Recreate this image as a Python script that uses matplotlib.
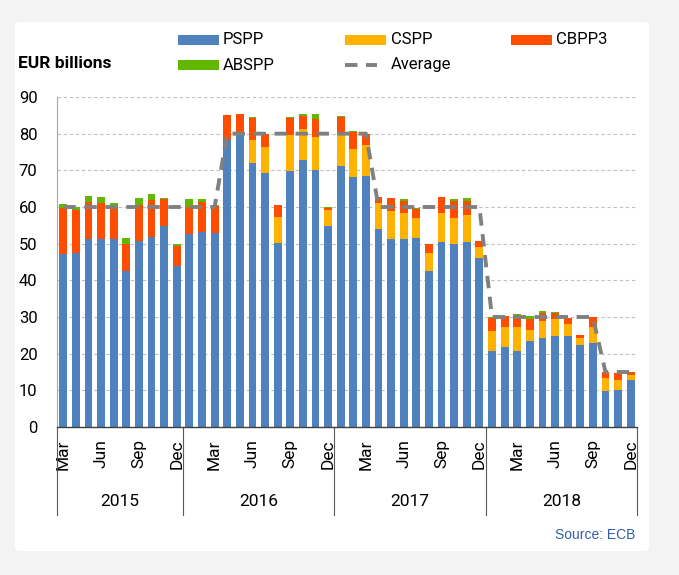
import numpy as np
import matplotlib
matplotlib.use("Agg")
import matplotlib.pyplot as plt
from matplotlib.patches import Rectangle, FancyBboxPatch
from matplotlib.lines import Line2D

plt.rcParams["font.family"] = ["Liberation Sans Narrow", "Roboto", "DejaVu Sans"]

# monthly purchases, Mar 2015 .. Dec 2018 (EUR billions)
years = ["2015", "2016", "2017", "2018"]
months_per_year = [10, 12, 12, 12]
tick_names = ["Mar", "Jun", "Sep", "Dec"]

pspp = [47.1, 47.5, 51.4, 51.4, 51.4, 42.6, 50.8, 51.8, 54.8, 43.9,
        52.7, 53.2, 53.0, 78.4, 80.0, 72.0, 69.4, 50.2, 69.8, 72.7, 70.0, 54.8,
        71.2, 68.1, 68.5, 54.0, 51.4, 51.4, 51.5, 42.6, 50.5, 49.9, 50.5, 46.2,
        20.7, 21.7, 20.8, 23.5, 24.2, 24.9, 24.9, 22.5, 22.9, 9.8, 10.1, 12.9]
cspp = [0, 0, 0, 0, 0, 0, 0, 0, 0, 0,
        0, 0, 0, 0, 0, 6.4, 7.1, 7.1, 9.9, 8.5, 9.0, 4.3,
        8.6, 7.8, 8.4, 7.2, 7.5, 7.1, 5.6, 4.9, 8.0, 7.1, 7.2, 3.0,
        5.6, 5.5, 6.5, 3.0, 4.8, 4.6, 3.2, 1.7, 4.3, 3.5, 2.8, 1.3]
cbpp3 = [12.6, 11.6, 10.0, 9.8, 8.6, 7.4, 9.8, 10.2, 7.3, 5.5,
         7.3, 8.1, 7.4, 6.7, 5.3, 5.9, 3.3, 3.2, 4.7, 3.7, 5.1, 0.7,
         4.7, 4.6, 2.9, 1.6, 3.5, 3.1, 2.4, 2.4, 4.3, 4.6, 3.9, 1.4,
         3.5, 3.1, 2.6, 3.0, 2.1, 1.6, 1.6, 1.0, 2.7, 1.7, 1.8, 0.7]
abspp = [1.0, 1.0, 1.6, 1.6, 1.2, 1.5, 1.8, 1.6, 0.4, 0.4,
         2.2, 0.8, 0.1, -0.3, 0.1, 0.2, 0.1, -0.3, 0.2, 0.4, 1.2, 0.1,
         0.4, 0.1, 0.1, -0.2, -0.2, 0.6, 0.1, -0.2, -0.2, 0.6, 0.9, -0.2,
         0.1, -0.2, 1.0, 0.9, 0.6, 0.3, 0.1, -0.2, -0.2, 0.1, 0.1, -0.2]
average = [60] * 13 + [80] * 12 + [60] * 9 + [30] * 9 + [15] * 3

C_PSPP, C_CSPP, C_CBPP3, C_ABS = "#4f81bd", "#ffb300", "#ff4d00", "#62b800"

n = len(pspp)
x = np.arange(n)
pspp, cspp, cbpp3, abspp = map(np.array, (pspp, cspp, cbpp3, abspp))

fig = plt.figure(figsize=(6.79, 5.75), dpi=100, facecolor="#f3f3f3")
panel = FancyBboxPatch((15 / 679, 1 - 551 / 575), 634 / 679, 529 / 575,
                       boxstyle="round,pad=0,rounding_size=0.006",
                       transform=fig.transFigure, fc="white", ec="none", zorder=-5)
fig.patches.append(panel)
ax = fig.add_axes([57 / 679, 1 - 427 / 575, 580 / 679, 330 / 575])
ax.set_facecolor("none")
ax.set_zorder(1)

bw = 0.62
ax.bar(x, pspp, bw, color=C_PSPP, zorder=2)
ax.bar(x, cspp, bw, bottom=pspp, color=C_CSPP, zorder=2)
ax.bar(x, cbpp3, bw, bottom=pspp + cspp, color=C_CBPP3, zorder=2)
abs_bottom = np.where(abspp > 0, pspp + cspp + cbpp3, 0)
ax.bar(x, abspp, bw, bottom=abs_bottom, color=C_ABS, zorder=2)
ax.plot(x, average, color="#808080", lw=2.8, dashes=(3.2, 2.2), zorder=3)

ax.set_xlim(-0.5, n - 0.5)
ax.set_ylim(0, 90)
ax.set_yticks(range(0, 91, 10))
ax.yaxis.grid(True, color="#bfbfbf", lw=0.8, ls=(0, (3, 2.5)), zorder=0)
ax.set_axisbelow(True)
ax.tick_params(axis="y", length=0, labelsize=12, pad=14)
for s in ("top", "right"):
    ax.spines[s].set_visible(False)
ax.spines["left"].set_color("#a6a6a6")
ax.spines["bottom"].set_color("#404040")
ax.spines["bottom"].set_linewidth(1.0)

# month ticks (Mar, Jun, Sep, Dec) and year groups
tick_pos, tick_lab = [], []
start = 0
bounds = [-0.5]
for yr, m in zip(years, months_per_year):
    first = 12 - m  # index of first month within year (Jan=0)
    for k in range(m):
        mon = first + k
        if mon in (2, 5, 8, 11):
            tick_pos.append(start + k)
            tick_lab.append(tick_names[(mon - 2) // 3])
    ax.text(start + (m - 1) / 2, -0.227, yr, transform=ax.get_xaxis_transform(),
            ha="center", va="center", fontsize=12.5)
    start += m
    bounds.append(start - 0.5)
ax.set_xticks(tick_pos)
ax.set_xticklabels(tick_lab, rotation=90, fontsize=12.5)
ax.tick_params(axis="x", length=0, pad=9)
for b in bounds:
    ax.plot([b, b], [0, -0.267], transform=ax.get_xaxis_transform(),
            color="#595959", lw=0.8, clip_on=False)

# legend drawn by hand
def patch(x0, yc, color):
    fig.patches.append(Rectangle((x0 / 679, 1 - (yc + 4.5) / 575), 41 / 679, 9 / 575,
                                 transform=fig.transFigure, fc=color, ec="none"))

row1, row2 = 40, 65
patch(178, row1, C_PSPP)
patch(345, row1, C_CSPP)
patch(511, row1, C_CBPP3)
patch(178, row2, C_ABS)
fig.lines.append(Line2D([345 / 679, 377 / 679], [1 - row2 / 575] * 2, transform=fig.transFigure,
                        color="#808080", lw=2.8, dashes=(3.2, 2.2)))
for tx, ty, s in [(223, row1, "PSPP"), (391, row1, "CSPP"), (556, row1, "CBPP3"),
                  (223, row2, "ABSPP"), (391, row2, "Average")]:
    fig.text(tx / 679, 1 - ty / 575, s, ha="left", va="center", fontsize=12)
fig.text(18 / 679, 1 - 63 / 575, "EUR billions", ha="left", va="center",
         fontsize=12.5, fontweight="bold")
fig.text(635 / 679, 1 - 535 / 575, "Source: ECB", ha="right", va="center",
         fontsize=10, color="#2f5fa8", family=["Liberation Sans", "DejaVu Sans"])

fig.savefig("out.png", dpi=100, facecolor=fig.get_facecolor())
